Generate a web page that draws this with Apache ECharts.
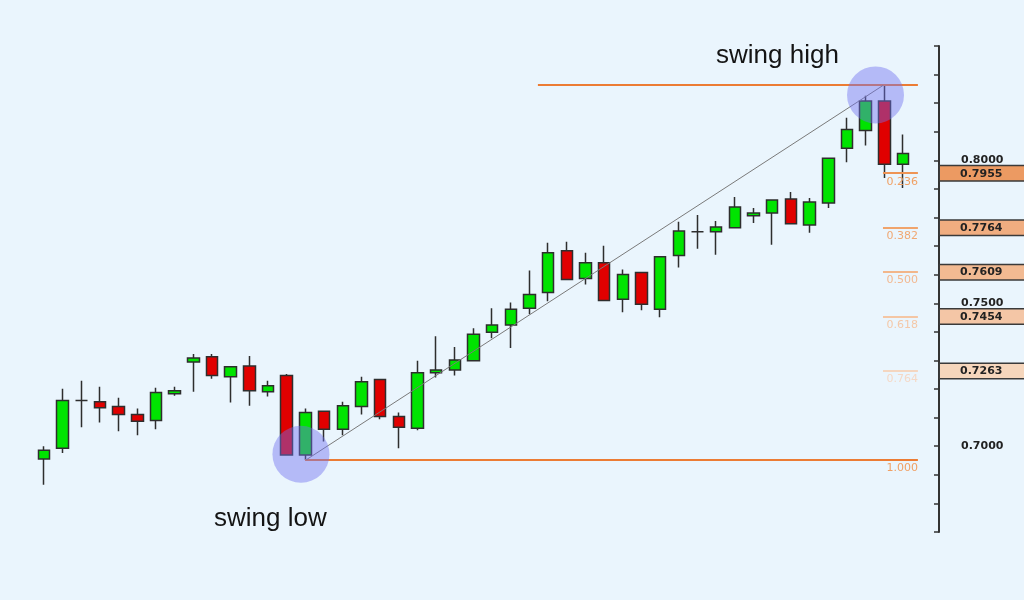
<!DOCTYPE html>
<html>
<head>
<meta charset="utf-8">
<script src="https://cdn.jsdelivr.net/npm/echarts@6/dist/echarts.min.js"></script>
<style>
html,body{margin:0;padding:0;background:#eaf5fd;}
#main{width:1024px;height:600px;}
</style>
</head>
<body>
<div id="main"></div>
<script>
// candle index (x position) and OHLC values
const bars   = [0,1,2,3,4,5,6,7,8,9,10,11,12,13,14,15,16,17,18,19,20,21,22,23,24,25,26,27,28,29,30,31,32,33,34,35,36,37,38,39,40,41,42,43,44,45,46];
const opens  = [0.6955,0.6993,0.7160,0.7156,0.7139,0.7111,0.7090,0.7184,0.7295,0.7313,0.7243,0.7281,0.7191,0.7247,0.6969,0.7122,0.7059,0.7139,0.7233,0.7104,0.7063,0.7257,0.7267,0.7299,0.7399,0.7424,0.7483,0.7538,0.7684,0.7587,0.7642,0.7514,0.7608,0.7479,0.7667,0.7750,0.7750,0.7764,0.7806,0.7816,0.7865,0.7774,0.7851,0.8042,0.8104,0.8208,0.7986];
const closes = [0.6986,0.7160,0.7160,0.7135,0.7111,0.7087,0.7188,0.7194,0.7309,0.7247,0.7278,0.7194,0.7212,0.6969,0.7118,0.7059,0.7142,0.7226,0.7104,0.7066,0.7257,0.7267,0.7302,0.7392,0.7424,0.7479,0.7531,0.7677,0.7583,0.7642,0.7510,0.7601,0.7497,0.7663,0.7753,0.7750,0.7767,0.7837,0.7816,0.7861,0.7778,0.7854,0.8007,0.8108,0.8208,0.7986,0.8024];
const lows   = [0.6865,0.6976,0.7066,0.7083,0.7052,0.7038,0.7059,0.7177,0.7191,0.7236,0.7153,0.7142,0.7174,0.6969,0.6952,0.7017,0.7038,0.7111,0.7094,0.6993,0.7056,0.7240,0.7247,0.7299,0.7378,0.7344,0.7462,0.7507,0.7583,0.7566,0.7510,0.7469,0.7476,0.7451,0.7625,0.7691,0.7670,0.7764,0.7781,0.7705,0.7778,0.7747,0.7833,0.7993,0.8052,0.7938,0.7903];
const highs  = [0.7000,0.7201,0.7229,0.7208,0.7170,0.7132,0.7205,0.7208,0.7323,0.7323,0.7278,0.7316,0.7229,0.7253,0.7132,0.7122,0.7156,0.7243,0.7233,0.7118,0.7299,0.7385,0.7347,0.7413,0.7483,0.7503,0.7615,0.7712,0.7715,0.7677,0.7701,0.7618,0.7608,0.7663,0.7785,0.7809,0.7788,0.7872,0.7833,0.7861,0.7889,0.7868,0.8010,0.8149,0.8226,0.8266,0.8090];

// swing points and Fibonacci retracement
const swingLow  = 0.6952;
const swingHigh = 0.8266;
const fibRatios = ['0.236','0.382','0.500','0.618','0.764','1.000'];
const fibValues = [0.7955,0.7764,0.7609,0.7454,0.7263,0.6952];
const fibBoxValues = [0.7955,0.7764,0.7609,0.7454,0.7263];
const tickLabels = [0.70,0.75,0.80];

// colours of the fading fib levels
const fibLineColors = ['#ee9455','#f0a46c','#f2b68a','#f4c6a4','#f4d6c0','#ec7c34'];
const fibTextColors = ['#f0a064','#f0a874','#f2b890','#f4c8a8','#f4d8c6','#f0a064'];
const fibBoxColors  = ['#ec9a62','#f0ad80','#f2ba92','#f4c6a6','#f6d6bc'];

const candleData = bars.map((x,i)=>[x, opens[i], closes[i], lows[i], highs[i]]);

const markLines = [];
// swing high horizontal line
markLines.push([{coord:[26.45, swingHigh], lineStyle:{color:'#ec7c34', width:2, type:'solid'}, label:{show:false}}, {coord:[46.8, swingHigh]}]);
// fib level lines (the 1.000 level is the long swing-low line)
fibValues.forEach((v,i)=>{
  const startX = (i === fibValues.length-1) ? 13.98 : 44.93;
  markLines.push([{
    coord:[startX, v],
    lineStyle:{color:fibLineColors[i], width:2, type:'solid'},
    label:{show:true, position:'insideEndBottom', formatter:fibRatios[i], color:fibTextColors[i],
           fontFamily:'DejaVu Sans', fontSize:11, distance:[0,3]}
  }, {coord:[46.8, v]}]);
});
// trend line swing low -> swing high
markLines.push([{coord:[14.03, swingLow], lineStyle:{color:'#7a7a7a', width:1, type:'solid'}, label:{show:false}}, {coord:[44.93, 0.8262]}]);

const allLabelValues = tickLabels.concat(fibBoxValues);
const rich = {
  p:{padding:[0,0,0,21], fontFamily:'DejaVu Sans', fontWeight:'bold', fontSize:11, color:'#222', lineHeight:12}
};
fibBoxValues.forEach((v,i)=>{
  rich['b'+i] = {
    backgroundColor: fibBoxColors[i],
    borderColor:'#3a3a3a', borderWidth:1.5,
    padding:[2,40,1,20],
    fontFamily:'DejaVu Sans', fontWeight:'bold', fontSize:11, color:'#222',
    lineHeight:12
  };
});

const chart = echarts.init(document.getElementById('main'), null, {renderer:'canvas'});
chart.setOption({
  backgroundColor:'#eaf5fd',
  animation:false,
  title:[
    {text:'swing high', left:711, top:38, textStyle:{fontFamily:'Liberation Sans', fontSize:26, fontWeight:'normal', color:'#141414'}},
    {text:'swing low', left:209, top:501, textStyle:{fontFamily:'Liberation Sans', fontSize:26, fontWeight:'normal', color:'#141414'}}
  ],
  grid:{left:34.66, right:85, top:46, bottom:68, containLabel:false, outerBoundsMode:'none'},
  xAxis:{type:'value', min:-0.5, max:47.93, show:false, splitLine:{show:false}},
  yAxis:{
    type:'value', position:'right', min:0.67, max:0.84, interval:0.01,
    axisLine:{show:true, onZero:false, lineStyle:{color:'#333', width:2}},
    axisTick:{show:true, inside:true, length:5, lineStyle:{color:'#333', width:1.5}},
    splitLine:{show:false},
    axisLabel:{show:true, customValues:allLabelValues, margin:1,
      formatter:v=>{
        const i = fibBoxValues.findIndex(x=>Math.abs(x-v)<1e-6);
        return i >= 0 ? '{b'+i+'|'+v.toFixed(4)+'}' : '{p|'+v.toFixed(4)+'}';
      },
      rich:rich}
  },
  series:[
    {
      type:'candlestick',
      data:candleData,
      barWidth:12,
      itemStyle:{color:'#00e400', color0:'#e00000', borderColor:'#2e2e2e', borderColor0:'#2e2e2e', borderColorDoji:'#2e2e2e', borderWidth:1.5},
      markLine:{silent:true, symbol:['none','none'], animation:false, data:markLines}
    },
    {
      type:'scatter',
      z:10,
      symbol:'circle',
      symbolSize:57,
      data:[[13.76, 0.6972],[44.53, 0.8229]],
      itemStyle:{color:'rgba(112,112,238,0.55)'},
      silent:true
    }
  ]
});
</script>
</body>
</html>
